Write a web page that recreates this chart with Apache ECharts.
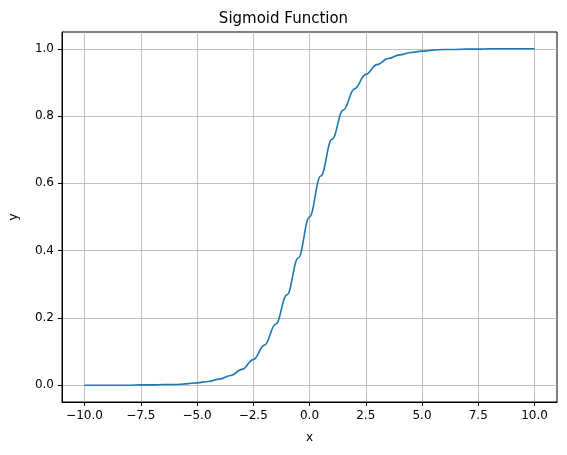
<!DOCTYPE html><html><head><meta charset="utf-8">
<script src="https://cdn.jsdelivr.net/npm/echarts@6/dist/echarts.min.js"></script>
<style>body{margin:0}#c{width:567px;height:455px}</style></head><body><div id="c"></div>
<script>
const xs=[-10,-9.5,-9,-8.5,-8,-7.5,-7,-6.5,-6,-5.5,-5,-4.5,-4,-3.5,-3,-2.5,-2,-1.5,-1,-0.5,0,0.5,1,1.5,2,2.5,3,3.5,4,4.5,5,5.5,6,6.5,7,7.5,8,8.5,9,9.5,10];
const ys=[0,0,0,0,0,0.001,0.001,0.002,0.002,0.004,0.007,0.011,0.018,0.029,0.047,0.076,0.119,0.182,0.269,0.378,0.5,0.622,0.731,0.818,0.881,0.924,0.953,0.971,0.982,0.989,0.993,0.996,0.998,0.998,0.999,0.999,1,1,1,1,1];
const xTicks=[-10,-7.5,-5,-2.5,0,2.5,5,7.5,10];
const yTicks=[0,0.2,0.4,0.6,0.8,1.0];
const f=(v,d)=>v.toFixed(d).replace('-','\u2212');
const font={fontFamily:'DejaVu Sans',fontSize:12,color:'#000'};
const ch=echarts.init(document.getElementById('c'));
ch.setOption({
 animation:false,
 title:{text:'Sigmoid Function',left:'center',top:7,textStyle:{fontFamily:'DejaVu Sans',fontSize:15,fontWeight:'normal',color:'#000'}},
 grid:{left:62,right:10,top:32,bottom:53,show:true,borderColor:'#000',borderWidth:1},
 xAxis:{type:'value',min:-11,max:11,name:'x',nameLocation:'middle',nameGap:30,nameTextStyle:font,
  axisLine:{onZero:false,lineStyle:{color:'#000'}},axisTick:{customValues:xTicks,length:4,lineStyle:{color:'#000'}},
  axisLabel:{customValues:xTicks,...font,formatter:v=>f(v,1)},
  splitLine:{show:true,lineStyle:{color:'#b0b0b0',width:0.8}}},
 yAxis:{type:'value',min:-0.05,max:1.05,name:'y',nameLocation:'middle',nameGap:42,nameTextStyle:font,
  axisLine:{show:true,onZero:false,lineStyle:{color:'#000'}},axisTick:{show:true,customValues:yTicks,length:4,lineStyle:{color:'#000'}},
  axisLabel:{customValues:yTicks,...font,formatter:v=>f(v,1)},
  splitLine:{show:true,lineStyle:{color:'#b0b0b0',width:0.8}}},
 series:[{type:'line',data:xs.map((x,i)=>[x,ys[i]]),smooth:0.4,smoothMonotone:'x',showSymbol:false,lineStyle:{color:'#1f77b4',width:1.6}}]
});
</script></body></html>
